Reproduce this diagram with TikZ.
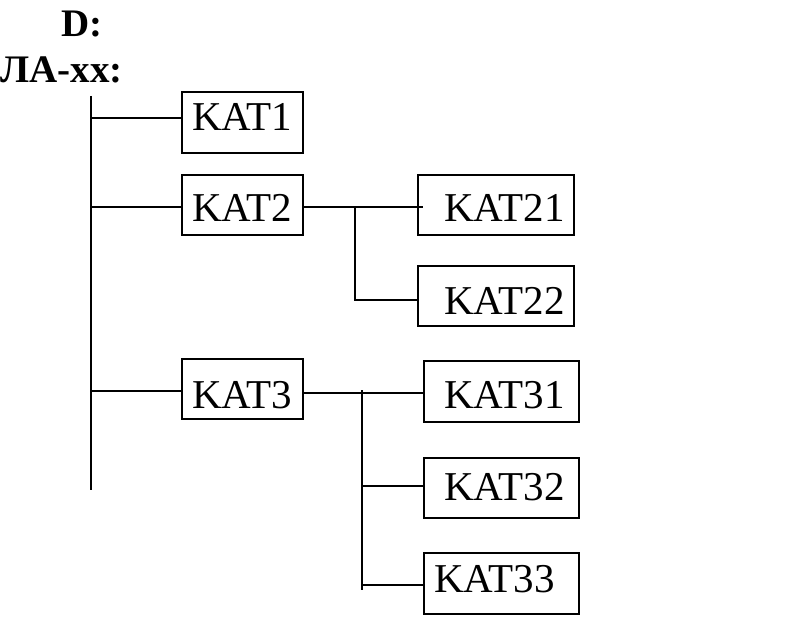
\documentclass[tikz,border=0pt]{standalone}
\usepackage{fontspec}
\setmainfont{Liberation Serif}
\begin{document}
\begin{tikzpicture}[x=1pt,y=-1pt,
  line width=2.3pt,
  box/.style={draw, line width=2.3pt, rectangle, inner sep=0pt, anchor=north west},
  txt/.style={inner sep=0pt, anchor=base west, font=\fontsize{41}{44}\selectfont},
  ttl/.style={inner sep=0pt, font=\fontsize{39}{44}\selectfont\bfseries}]
\useasboundingbox (0,0) rectangle (786,636);
% titles
\node[ttl, anchor=base west] (tD) at (60,37) {D:};
\node[ttl, anchor=base east] (tL) at (124,83) {ЛА-хх:};
% boxes
\node[box, minimum width=121pt, minimum height=61pt] (k1) at (181,91) {};
\node[box, minimum width=121pt, minimum height=60pt] (k2) at (181,174) {};
\node[box, minimum width=121pt, minimum height=60pt] (k3) at (181,358) {};
\node[box, minimum width=156pt, minimum height=60pt] (k21) at (417,174) {};
\node[box, minimum width=156pt, minimum height=60pt] (k22) at (417,265) {};
\node[box, minimum width=155pt, minimum height=61pt] (k31) at (423,360) {};
\node[box, minimum width=155pt, minimum height=60pt] (k32) at (423,457) {};
\node[box, minimum width=155pt, minimum height=61pt] (k33) at (423,552) {};
% texts
\node[txt] (t1) at (191,131) {KAT1};
\node[txt] (t2) at (191,222) {KAT2};
\node[txt] (t3) at (191,408) {KAT3};
\node[txt] (t21) at (443,222) {KAT21};
\node[txt] (t22) at (443,314) {KAT22};
\node[txt] (t31) at (443,408) {KAT31};
\node[txt] (t32) at (443,500) {KAT32};
\node[txt] (t33) at (433,592) {KAT33};
% trunk
\coordinate (top) at (91,96);
\coordinate (bot) at (91,490);
\draw (top) -- (bot);
\coordinate (b1) at (91,118);
\coordinate (b2) at (91,207);
\coordinate (b3) at (91,391);
\draw (b1) -- (b1 -| k1.west);
\draw (b2) -- (b2 -| k2.west);
\draw (b3) -- (b3 -| k3.west);
% KAT2 subtree
\coordinate (c2) at (302,207);
\coordinate (c2e) at (423,207);
\coordinate (v2) at (355,207);
\coordinate (v2b) at (355,300);
\draw (c2) -- (c2e);
\draw (v2) -- (v2b) -- (v2b -| k22.west);
% KAT3 subtree
\coordinate (c3) at (302,393);
\draw (c3) -- (c3 -| k31.west);
\coordinate (v3) at (362,390);
\coordinate (v3b) at (362,590);
\draw (v3) -- (v3b);
\coordinate (h32) at (362,486);
\coordinate (h33) at (362,585);
\draw (h32) -- (h32 -| k32.west);
\draw (h33) -- (h33 -| k33.west);
\end{tikzpicture}
\end{document}
